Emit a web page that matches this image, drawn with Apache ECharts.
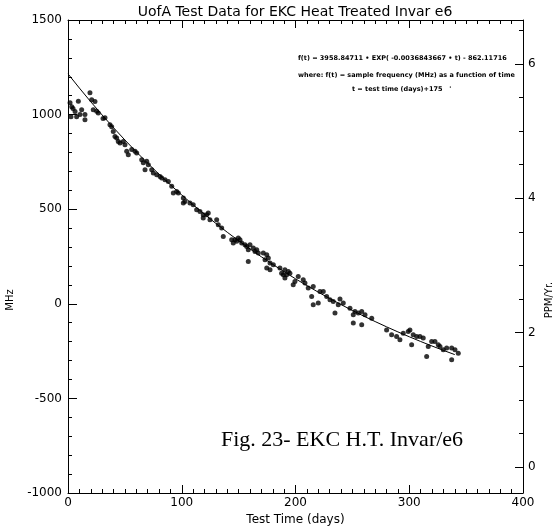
<!DOCTYPE html>
<html>
<head>
<meta charset="utf-8">
<script src="https://cdn.jsdelivr.net/npm/echarts@6/dist/echarts.min.js"></script>
<style>html,body{margin:0;padding:0;background:#fff;}#c{width:560px;height:526px;}</style>
</head>
<body>
<div id="c"></div>
<script>
// Measured data points (Test Time in days, frequency in MHz)
var tDays = [1.8,3.3,4.4,6.2,2.6,7.6,9.1,10.5,12.0,14.9,14.9,19.3,20.8,22.2,25.2,26.6,23.7,
30.8,32.5,36.9,38.4,39.8,41.3,42.8,44.2,45.7,48.6,50.1,51.6,53.0,56.0,58.9,60.4,64.8,66.2,67.7,69.2,70.6,73.6,75.0,78.0,80.9,82.4,85.3,88.2,
91.2,92.6,95.5,97.0,101.4,102.8,101.4,107.2,110.1,113.1,116.0,118.9,118.9,121.9,123.3,124.8,130.7,132.1,135.1,136.5,143.9,145.3,146.8,148.3,149.7,151.2,152.7,155.6,157.1,158.5,160.0,162.9,164.4,165.9,167.3,158.5,171.7,174.7,173.2,176.1,177.6,174.7,177.6,180.5,186.3,187.8,190.7,192.2,190.7,
189.3,193.7,195.1,199.5,198.0,202.4,206.8,208.3,211.2,215.6,214.2,215.6,220.0,221.5,224.4,227.4,230.3,233.2,234.7,237.6,239.1,242.0,247.9,250.8,252.3,255.2,258.2,250.8,258.2,261.1,267.0,280.1,284.5,288.9,
291.8,294.7,299.1,300.6,302.1,303.5,306.5,309.4,312.3,315.3,316.7,319.7,322.6,325.5,327.0,329.9,332.9,337.3,340.2,343.1,337.3];
var mhz = [1063,1042,1032,1016,989,989,1070,1000,1026,1000,973,1116,1079,1026,1018,1009,1069,
979,984,947,936,911,884,876,858,850,858,841,806,788,815,806,797,762,745,709,753,735,709,691,682,673,665,656,647,
621,586,594,586,559,541,533,533,524,497,488,471,453,471,480,444,444,418,400,356,339,321,339,330,348,339,321,312,303,286,312,295,277,286,268,224,268,259,233,242,215,189,180,206,189,162,180,153,136,
153,171,162,118,101,144,127,110,83,92,39,-5,4,65,65,39,21,12,-49,-5,25,4,-23,-58,-41,-49,-41,-102,-111,-58,-76,-138,-164,-173,
-190,-155,-147,-138,-217,-164,-173,-173,-181,-279,-226,-199,-199,-217,-226,-243,-234,-234,-243,-261,-296];

// Fitted curve values (every 10 days)
var fitDays = [0,10,20,30,40,50,60,70,80,90,100,110,120,130,140,150,160,170,180,190,200,210,220,230,240,250,260,270,280,290,300,310,320,330,340];
var fitMhz = [1215.4,1140.3,1067.9,998.0,930.8,865.9,803.4,743.2,685.1,629.1,575.2,523.2,473.1,424.8,378.2,333.3,290.1,248.4,208.3,169.5,132.2,96.3,61.6,28.2,-4.0,-35.1,-65.0,-93.8,-121.6,-148.4,-174.2,-199.1,-223.1,-246.2,-268.5];

// Axis ticks
var xTicks = [0,100,200,300,400];
var ppmLabels = [0,2,4,6];
var ppmMinor = [0.5,1,1.5,2.5,3,3.5,4.5,5,5.5,6.5];

var FONT = 'DejaVu Sans';
var pts = tDays.map(function(t,i){return [t, mhz[i]];});
var fit = fitDays.map(function(t,i){return [t, fitMhz[i]];});
var plain = function(v){ return String(v); };

var chart = echarts.init(document.getElementById('c'), null, {renderer:'canvas'});
var axLine = {show:true, onZero:false, lineStyle:{color:'#000', width:1}};
chart.setOption({
  animation:false,
  backgroundColor:'#fff',
  title:{text:'UofA Test Data for EKC Heat Treated Invar e6', left:290, textAlign:'center', top:0,
    textStyle:{fontFamily:FONT, fontWeight:'normal', fontSize:14, color:'#000'}},
  grid:{left:68, right:37, top:20, bottom:33, containLabel:false, outerBoundsMode:'none'},
  xAxis:[
    {type:'value', min:0, max:400, interval:100, position:'bottom',
     axisLine:axLine, splitLine:{show:false},
     axisTick:{show:true, inside:true, length:8, lineStyle:{color:'#000'}},
     minorTick:{show:true, splitNumber:10, length:4, lineStyle:{color:'#000'}},
     axisLabel:{color:'#000', fontFamily:FONT, fontSize:12, margin:4, formatter:plain,
       customValues:xTicks},
     name:'Test Time (days)', nameLocation:'middle', nameGap:14,
     nameTextStyle:{color:'#000', fontFamily:FONT, fontSize:12}},
    {type:'value', min:0, max:400, interval:100, position:'top',
     axisLine:axLine, splitLine:{show:false},
     axisTick:{show:true, inside:true, length:8, lineStyle:{color:'#000'}},
     minorTick:{show:true, splitNumber:10, length:4, lineStyle:{color:'#000'}},
     axisLabel:{show:false}}
  ],
  yAxis:[
    {type:'value', min:-1000, max:1500, interval:500, position:'left',
     axisLine:axLine, splitLine:{show:false},
     axisTick:{show:true, inside:true, length:9, lineStyle:{color:'#000'}},
     minorTick:{show:true, splitNumber:5, length:4, lineStyle:{color:'#000'}},
     axisLabel:{color:'#000', fontFamily:FONT, fontSize:12, margin:6, formatter:plain}},
    {type:'value', min:-0.388, max:6.654, position:'right',
     axisLine:axLine, splitLine:{show:false},
     axisTick:{show:true, inside:true, length:8, customValues:ppmLabels, lineStyle:{color:'#000'}},
     axisLabel:{color:'#000', fontFamily:FONT, fontSize:12, margin:5, customValues:ppmLabels, formatter:plain}},
    {type:'value', min:-0.388, max:6.654, position:'right',
     axisLine:{show:false, onZero:false}, splitLine:{show:false},
     axisTick:{show:true, inside:true, length:4, customValues:ppmMinor, lineStyle:{color:'#000'}},
     axisLabel:{show:false}}
  ],
  series:[
    {type:'scatter', xAxisIndex:0, yAxisIndex:0, data:pts, symbol:'circle', symbolSize:5,
     itemStyle:{color:'#000'}, silent:true},
    {type:'line', xAxisIndex:0, yAxisIndex:0, data:fit, smooth:false, showSymbol:false,
     lineStyle:{color:'#000', width:1}, silent:true}
  ],
  graphic:[
    {type:'text', x:10, y:300, rotation:Math.PI/2, style:{text:'MHz', fill:'#000', font:'10px '+FONT, textAlign:'center', textVerticalAlign:'middle'}},
    {type:'text', x:549, y:300, rotation:Math.PI/2, style:{text:'PPM/Yr.', fill:'#000', font:'10px '+FONT, textAlign:'center', textVerticalAlign:'middle'}},
    {type:'text', x:298, y:58, style:{text:'f(t) = 3958.84711 \u2022 EXP( -0.0036843667 \u2022 t) - 862.11716', fill:'#000', font:'bold 6.5px '+FONT, textVerticalAlign:'middle'}},
    {type:'text', x:298, y:75, style:{text:'where: f(t) = sample frequency (MHz) as a function of time', fill:'#000', font:'bold 6.5px '+FONT, textVerticalAlign:'middle'}},
    {type:'text', x:352, y:89, style:{text:'t = test time (days)+175   \'', fill:'#000', font:'bold 6.5px '+FONT, textVerticalAlign:'middle'}},
    {type:'text', x:342, y:440, style:{text:'Fig. 23- EKC H.T. Invar/e6', fill:'#000', font:'22px "Liberation Serif"', textAlign:'center', textVerticalAlign:'middle'}}
  ]
});
</script>
</body>
</html>
